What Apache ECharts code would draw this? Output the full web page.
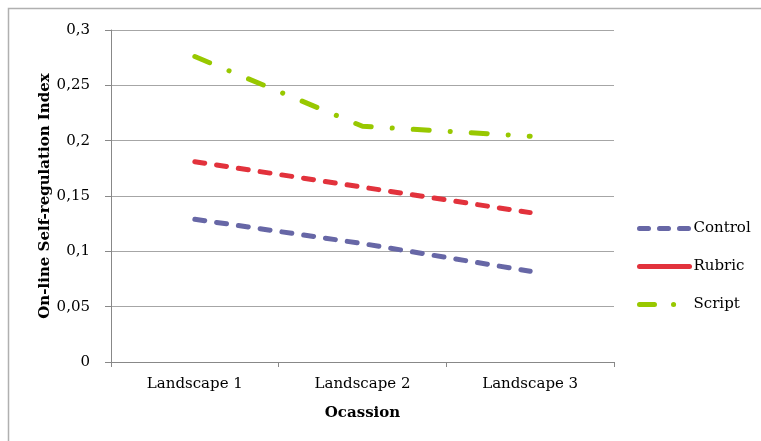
<!DOCTYPE html>
<html>
<head>
<meta charset="utf-8">
<script src="https://cdn.jsdelivr.net/npm/echarts@6/dist/echarts.min.js"></script>
<style>html,body{margin:0;padding:0;background:#fff}#c{width:761px;height:441px}</style>
</head>
<body>
<div id="c"></div>
<script>
const categories = ['Landscape 1', 'Landscape 2', 'Landscape 3'];
const controlValues = [0.129, 0.107, 0.082];
const rubricValues = [0.181, 0.158, 0.135];
const scriptValues = [0.276, 0.213, 0.204];
const yTicks = ['0', '0,05', '0,1', '0,15', '0,2', '0,25', '0,3'];

const FONT = 'DejaVu Serif';
const chart = echarts.init(document.getElementById('c'), null, {renderer: 'canvas'});
chart.setOption({
  animation: false,
  backgroundColor: '#fff',
  textStyle: {fontFamily: FONT, color: '#000'},
  graphic: [{
    type: 'polyline', z: -1,
    shape: {points: [[8.5, 441], [8.5, 8.5], [761, 8.5]]},
    style: {fill: 'none', stroke: '#b0b0b0', lineWidth: 1.5}
  }],
  grid: {left: 111, right: 147, top: 30, bottom: 79},
  legend: {
    orient: 'vertical', left: 632, top: 216, itemGap: 23,
    itemWidth: 50, itemHeight: 14,
    itemStyle: {opacity: 0},
    textStyle: {fontFamily: FONT, fontSize: 15, color: '#000', padding: [0,0,0,-1]},
    data: [
      {name: 'Control', lineStyle: {width: 5, cap: 'round', type: [9, 11]}},
      {name: 'Rubric', lineStyle: {width: 5, cap: 'round', type: 'solid'}},
      {name: 'Script', lineStyle: {width: 5, cap: 'round', type: [15, 19, 0.1, 30]}}
    ]
  },
  xAxis: {
    type: 'category', data: categories,
    name: 'Ocassion', nameLocation: 'middle', nameGap: 44, nameMoveOverlap: false,
    nameTextStyle: {fontFamily: FONT, fontWeight: 'bold', fontSize: 15, color: '#000'},
    axisLine: {lineStyle: {color: '#888', width: 1}},
    axisTick: {show: true, length: 5, lineStyle: {color: '#888'}},
    axisLabel: {fontFamily: FONT, fontSize: 15, color: '#000', margin: 15}
  },
  yAxis: {
    type: 'value', min: 0, max: 0.3, interval: 0.05,
    name: 'On-line Self-regulation Index', nameLocation: 'middle', nameGap: 58, nameMoveOverlap: false,
    nameTextStyle: {fontFamily: FONT, fontWeight: 'bold', fontSize: 15, color: '#000'},
    axisLine: {show: true, lineStyle: {color: '#888', width: 1}},
    axisTick: {show: true, length: 6, lineStyle: {color: '#888'}},
    splitLine: {lineStyle: {color: '#a6a6a6', width: 1}},
    axisLabel: {fontFamily: FONT, fontSize: 15, color: '#000', margin: 21,
      formatter: function (v) { return yTicks[Math.round(v / 0.05)]; }}
  },
  series: [
    {name: 'Control', type: 'line', data: controlValues, symbol: 'none',
      itemStyle: {color: '#6767a6'},
      lineStyle: {color: '#6767a6', width: 5, cap: 'round', type: [10, 12]}},
    {name: 'Rubric', type: 'line', data: rubricValues, symbol: 'none',
      itemStyle: {color: '#e2323c'},
      lineStyle: {color: '#e2323c', width: 5, cap: 'round', type: [10, 12]}},
    {name: 'Script', type: 'line', data: scriptValues, symbol: 'none',
      itemStyle: {color: '#98c800'},
      lineStyle: {color: '#98c800', width: 5, cap: 'round', type: [16, 21, 0.1, 21]}}
  ]
});
</script>
</body>
</html>
